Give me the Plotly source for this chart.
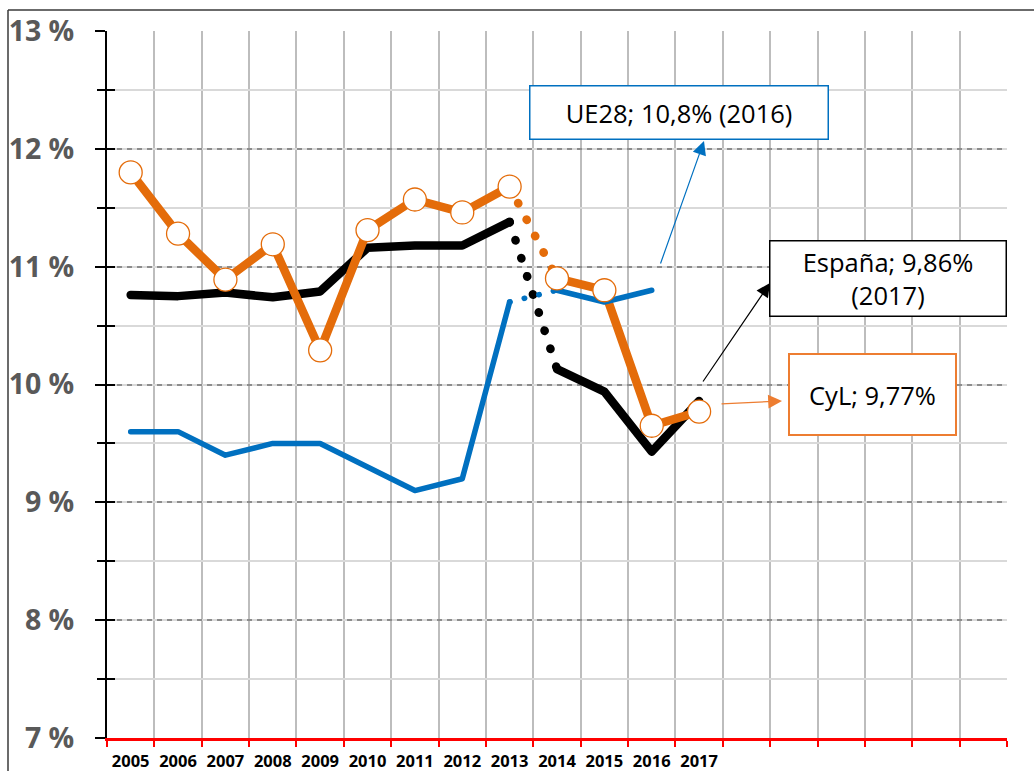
import plotly.graph_objects as go

# ---------------- data ----------------
years = [2005, 2006, 2007, 2008, 2009, 2010, 2011, 2012, 2013, 2014, 2015, 2016, 2017]
espana = [10.76, 10.75, 10.78, 10.74, 10.79, 11.16, 11.18, 11.18, 11.38, 10.13, 9.94, 9.43, 9.86]
cyl = [11.80, 11.28, 10.89, 11.19, 10.29, 11.31, 11.57, 11.46, 11.68, 10.90, 10.80, 9.65, 9.77]
ue28 = [9.6, 9.6, 9.4, 9.5, 9.5, 9.3, 9.1, 9.2, 10.7, 10.8, 10.7, 10.8]  # 2005-2016
n_slots = 19                     # slots on the category axis (13 years + 6 empty)
break_year = 2013                # series break between 2013 and 2014
y_labels = ["7 %", "8 %", "9 %", "10 %", "11 %", "12 %", "13 %"]

ann_ue = "UE28; 10,8% (2016)"
ann_es = "España; 9,86%<br>(2017)"
ann_cyl = "CyL; 9,77%"

# ---------------- styles ----------------
C_ES = "#000000"
C_CYL = "#E46C0A"
C_UE = "#0070C0"
C_CYL_ARROW = "#ED7D31"

L, R, T, B = 107, 1007, 31, 738   # plot area in pixels
W, H = 1034, 771


def px_x(px):
    return (px - L) / (R - L)


def px_y(py):
    return (B - py) / (B - T)


bi = years.index(break_year)
slots = [years[0] + i for i in range(n_slots)]
bounds = [s - 0.5 for s in slots] + [slots[-1] + 0.5]

fig = go.Figure()


def add_series(vals, color, width, yaxis, dot):
    n = len(vals)
    fig.add_trace(go.Scatter(x=years[:bi + 1], y=vals[:bi + 1], mode="lines",
                             line=dict(color=color, width=width), yaxis=yaxis,
                             hoverinfo="skip", showlegend=False))
    fig.add_trace(go.Scatter(x=years[bi:bi + 2], y=vals[bi:bi + 2], mode="lines",
                             line=dict(color=color, width=width, dash=dot), yaxis=yaxis,
                             hoverinfo="skip", showlegend=False))
    fig.add_trace(go.Scatter(x=years[bi + 1:n], y=vals[bi + 1:n], mode="lines",
                             line=dict(color=color, width=width), yaxis=yaxis,
                             hoverinfo="skip", showlegend=False))


add_series(espana, C_ES, 8.5, "y", "0.5px,18.5px")
add_series(cyl, C_CYL, 8.5, "y2", "0.5px,18px")
add_series(ue28, C_UE, 5.5, "y2", "0.5px,14.5px")
fig.add_trace(go.Scatter(x=years, y=cyl, mode="markers", yaxis="y2",
                         marker=dict(size=23, color="white",
                                     line=dict(color=C_CYL, width=1.3)),
                         hoverinfo="skip", showlegend=False))

fig.update_layout(
    width=W, height=H,
    margin=dict(l=L, r=W - R, t=T, b=H - B, pad=0, autoexpand=False),
    paper_bgcolor="white", plot_bgcolor="white",
    showlegend=False, hovermode=False,
    xaxis=dict(
        range=[bounds[0], bounds[-1]], tickmode="array", tickvals=years,
        ticktext=[str(y) for y in years], ticks="", showgrid=False, zeroline=False,
        showline=True, linecolor="#FF0000", linewidth=3, automargin=False,
        tickfont=dict(family="Open Sans", size=16.5, color="black", weight="bold"),
        ticklabelstandoff=6,
        minor=dict(tickmode="array", tickvals=bounds, ticks="outside", ticklen=6,
                   tickwidth=2, tickcolor="#FF0000", showgrid=True,
                   gridcolor="#BDBDBD", gridwidth=2, griddash="solid"),
    ),
    yaxis=dict(
        range=[7, 13], tickmode="array", tickvals=list(range(7, 14)), ticktext=y_labels,
        showgrid=True, gridcolor="#8C8C8C", gridwidth=1.5, griddash="5px,5px",
        zeroline=False, showline=True, linecolor="black", linewidth=2, automargin=False,
        ticks="outside", ticklen=10, tickwidth=2, tickcolor="black",
        tickfont=dict(family="Open Sans", size=28.5, color="#595959", weight="bold"),
        ticklabelstandoff=15,
        minor=dict(tickmode="linear", tick0=7, dtick=0.5, ticks="outside", ticklen=8,
                   tickwidth=2, tickcolor="black", showgrid=True,
                   gridcolor="#D9D9D9", gridwidth=1.5, griddash="solid"),
    ),
    yaxis2=dict(
        range=[7, 13], overlaying="y", side="left", anchor="x", automargin=False,
        tickmode="linear", tick0=7, dtick=1, ticks="inside", ticklen=8, tickwidth=2,
        tickcolor="black", showticklabels=False, showgrid=False, zeroline=False,
        showline=False,
        minor=dict(tickmode="linear", tick0=7, dtick=0.5, ticks="inside", ticklen=8,
                   tickwidth=2, tickcolor="black", showgrid=False),
    ),
)

# outer frame (top and left edges visible)
fig.add_shape(type="line", xref="paper", yref="paper",
              x0=px_x(8), x1=px_x(W + 10), y0=px_y(10), y1=px_y(10),
              line=dict(color="#3A3A3A", width=1.5))
fig.add_shape(type="line", xref="paper", yref="paper",
              x0=px_x(8), x1=px_x(8), y0=px_y(10), y1=px_y(H + 10),
              line=dict(color="#3A3A3A", width=1.5))

box_font = dict(family="Open Sans", size=25.5, color="black")


def add_box(text, cx, cy, w, h, color, bw):
    fig.add_annotation(text=text, xref="paper", yref="paper", x=px_x(cx), y=px_y(cy),
                       xanchor="center", yanchor="middle", showarrow=False,
                       width=w - 2 * bw, height=h - 2 * bw, align="center", valign="middle",
                       bgcolor="white", bordercolor=color, borderwidth=bw, borderpad=0,
                       font=box_font)


def add_arrow(hx, hy, tx, ty, color):
    fig.add_annotation(text="", xref="paper", yref="paper", x=px_x(hx), y=px_y(hy),
                       axref="pixel", ayref="pixel", ax=tx - hx, ay=ty - hy,
                       showarrow=True, arrowhead=2, arrowsize=2.3, arrowwidth=1.2,
                       arrowcolor=color, standoff=0, startstandoff=0)


add_box(ann_ue, 679, 112.5, 300, 55, C_UE, 1.5)
add_box(ann_es, 888, 278.5, 238, 77, "black", 1.5)
add_box(ann_cyl, 872.5, 394.5, 169, 83, C_CYL_ARROW, 2)
add_arrow(704, 141, 660, 265, C_UE)
add_arrow(770, 283, 702, 383, "black")
add_arrow(782, 401, 720, 404, C_CYL_ARROW)

post = """
document.body.style.margin='0';
document.body.style.padding='0';
document.querySelectorAll('.scatterlayer .js-line').forEach(function(p){
  p.style.strokeLinecap='round'; p.style.strokeLinejoin='round';
});
"""

fig.write_html("out.html", post_script=post, config={"displayModeBar": False})
